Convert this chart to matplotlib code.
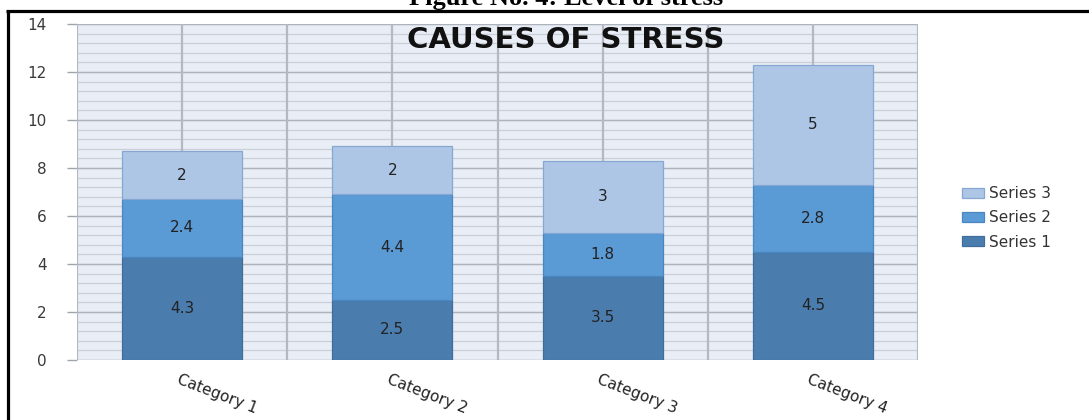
import matplotlib
matplotlib.use("Agg")
import matplotlib.pyplot as plt
from matplotlib.lines import Line2D
from matplotlib.ticker import MultipleLocator
from matplotlib.transforms import blended_transform_factory
import numpy as np

categories = ["Category 1", "Category 2", "Category 3", "Category 4"]
series_names = ["Series 1", "Series 2", "Series 3"]
series_1 = [4.3, 2.5, 3.5, 4.5]
series_2 = [2.4, 4.4, 1.8, 2.8]
series_3 = [2, 2, 3, 5]
y_ticks = [0, 2, 4, 6, 8, 10, 12, 14]

colors = ["#4A7DAE", "#5A9AD5", "#ADC6E6"]
edges = ["#3F6E9C", "#4A86BF", "#86A7D2"]

W, H = 1089, 420
fig = plt.figure(figsize=(W / 100, H / 100), dpi=100)
fig.patch.set_facecolor("white")

# plot area in pixels: x 77..918, y 24..360
ax = fig.add_axes([77 / W, 1 - 360 / H, 841 / W, 336 / H])
ax.set_facecolor("#E9EDF5")

x = np.arange(len(categories))
bar_w = 120 / 210
bottom = np.zeros(len(categories))
for vals, name, c, ec in zip([series_1, series_2, series_3], series_names, colors, edges):
    vals = np.asarray(vals, dtype=float)
    ax.bar(x, vals, bar_w, bottom=bottom, color=c, edgecolor=ec,
           linewidth=0.9, label=name, zorder=3)
    for xi, b, v in zip(x, bottom, vals):
        ax.text(xi, b + v / 2, f"{v:g}", ha="center", va="center",
                fontsize=11, color="#222222", family="DejaVu Sans", zorder=4)
    bottom += vals

ax.set_xlim(-0.5, len(categories) - 0.5)
ax.set_ylim(0, 14)
ax.set_yticks(y_ticks)
ax.yaxis.set_minor_locator(MultipleLocator(0.4))
ax.set_xticks([])

# gridlines
for yv in np.arange(0, 14.01, 0.4):
    ax.axhline(yv, color="#CACED6", lw=0.9, zorder=1)
for yv in y_ticks:
    ax.axhline(yv, color="#AEB2BA", lw=1.0, zorder=1.5)
for xv in np.arange(-0.5, len(categories), 0.5):
    ax.axvline(xv, color="#B5B8BF", lw=1.6, zorder=1.6)

for s in ["top", "right", "left", "bottom"]:
    ax.spines[s].set_visible(False)

ax.tick_params(axis="y", which="major", length=7, width=1, color="#A0A4AC",
               pad=15, labelsize=11, labelcolor="#3A3A3A")
ax.tick_params(axis="y", which="minor", length=0)
for lab in ax.get_yticklabels():
    lab.set_family("DejaVu Sans")

# rotated category labels
trans = blended_transform_factory(ax.transData, ax.transAxes)
for xi, cat in zip(x, categories):
    ax.text(xi - 0.01, -0.035, cat, transform=trans, rotation=-21,
            rotation_mode="anchor", ha="left", va="top", fontsize=11,
            color="#222222", family="DejaVu Sans")

# chart title inside the plot area
fig.text(566 / W, 1 - 40 / H, "CAUSES OF STRESS", ha="center", va="center",
         fontsize=21, fontweight="bold", color="#111111", family="DejaVu Sans")

# legend
handles, labels = ax.get_legend_handles_labels()
leg = fig.legend(handles[::-1], labels[::-1], loc="center left",
                 bbox_to_anchor=(962 / W, 1 - 218 / H), frameon=False,
                 prop={"family": "DejaVu Sans", "size": 11},
                 handlelength=1.45, handleheight=0.65, handletextpad=0.3,
                 labelspacing=0.6, borderpad=0, borderaxespad=0)
for t in leg.get_texts():
    t.set_color("#333333")

# figure caption at the very top edge
fig.text(566 / W, 1 - 5 / H, "Figure No. 4: Level of stress", ha="center",
         va="baseline", fontsize=19, fontweight="bold", color="black",
         family="Liberation Serif")

# black frame lines
fig.add_artist(Line2D([6 / W, 1], [1 - 10.5 / H, 1 - 10.5 / H], color="black",
                      lw=2.3, transform=fig.transFigure, solid_capstyle="butt"))
fig.add_artist(Line2D([8 / W, 8 / W], [0, 1 - 9.5 / H], color="black",
                      lw=2.3, transform=fig.transFigure, solid_capstyle="butt"))

fig.savefig("out.png", dpi=100)
